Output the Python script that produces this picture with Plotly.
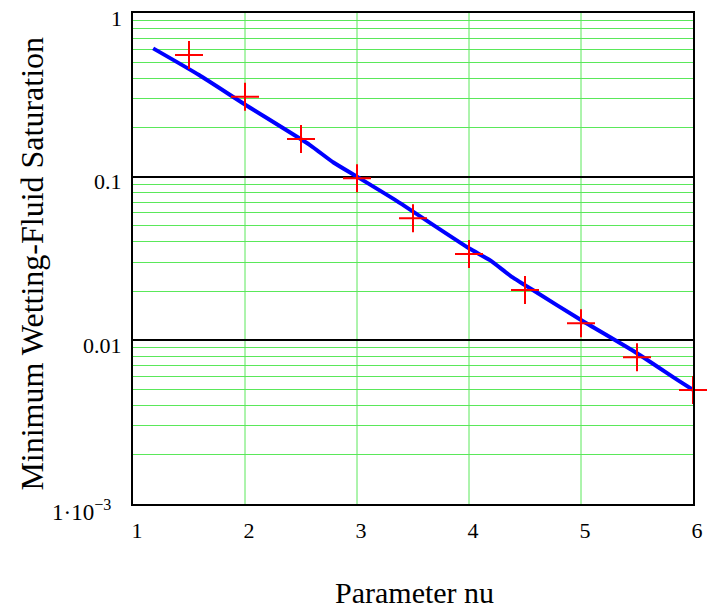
import math
import plotly.graph_objects as go

# Measured minimum wetting-fluid saturation vs. parameter nu
nu_data = [1.5, 2.0, 2.5, 3.0, 3.5, 4.0, 4.5, 5.0, 5.5, 6.0]
sw_data = [0.554, 0.308, 0.170, 0.0977, 0.0557, 0.0337, 0.0203, 0.0127, 0.00788, 0.00498]

# Fitted curve
nu_fit = [1.18, 1.59, 2.0, 2.58, 2.79, 3.0, 3.34, 4.0, 4.19, 4.37, 4.57, 5.0, 5.5, 5.86, 6.0]
sw_fit = [0.608, 0.418, 0.276, 0.156, 0.122, 0.100, 0.0721, 0.0365, 0.0308, 0.0248,
          0.0203, 0.0133, 0.00834, 0.00573, 0.00498]

x_ticks = [1, 2, 3, 4, 5, 6]
y_ticks = [1e-3, 1e-2, 1e-1, 1]
y_ticktext = ["1\u00b710<sup>\u22123</sup>", "0.01", "0.1", "1"]
y_minor = [m * 10.0 ** e for e in (-3, -2, -1) for m in range(2, 10)]

FONT = "Liberation Serif, Times New Roman, serif"
GREEN = "rgb(90,232,90)"

fig = go.Figure()
fig.add_trace(go.Scatter(
    x=nu_fit, y=sw_fit, mode="lines",
    line=dict(color="#0000ff", width=4, shape="spline", smoothing=0.5),
    showlegend=False,
))
fig.add_trace(go.Scatter(
    x=nu_data, y=sw_data, mode="markers",
    marker=dict(symbol="cross-thin-open", size=20, color="red",
                line=dict(color="red", width=2)),
    showlegend=False, cliponaxis=False,
))

# vertical grid lines at the interior x ticks
for xv in x_ticks[1:-1]:
    fig.add_shape(
        type="line", xref="x", yref="paper", x0=xv, x1=xv, y0=0, y1=1,
        line=dict(color=GREEN, width=1), layer="below",
    )

fig.update_xaxes(
    range=[1, 6], tickmode="array", tickvals=x_ticks,
    showgrid=False,
    showline=True, linecolor="black", linewidth=2, mirror=True,
    ticks="", zeroline=False,
    tickfont=dict(family=FONT, size=22, color="black"),
    ticklabelstandoff=6, ticklabelshift=4,
)
fig.update_yaxes(
    type="log", range=[-3, 0], tickmode="array", tickvals=y_ticks,
    showticklabels=False,
    showgrid=True, gridcolor="black", gridwidth=1.5,
    minor=dict(tickmode="array", tickvals=y_minor, showgrid=True,
               gridcolor=GREEN, gridwidth=1, ticks=""),
    showline=True, linecolor="black", linewidth=2, mirror=True,
    ticks="", zeroline=False,
)

# y tick labels, set slightly below their grid lines; the
# power-of-ten label sits a little further left
for val, txt in zip(y_ticks, y_ticktext):
    is_power = "<sup>" in txt
    fig.add_annotation(
        text=txt, xref="paper", yref="y", x=0, y=math.log10(val),
        xanchor="right", yanchor="middle",
        xshift=-20 if is_power else -9, yshift=-6 if is_power else -5,
        showarrow=False, font=dict(family=FONT, size=23 if is_power else 22, color="black"),
    )

fig.add_annotation(
    text="Parameter nu", xref="paper", yref="paper",
    x=0.502, y=-0.18, xanchor="center", yanchor="middle", showarrow=False,
    font=dict(family=FONT, size=30, color="black"),
)
fig.add_annotation(
    text="Minimum Wetting-Fluid Saturation", xref="paper", yref="paper",
    x=-0.18, y=0.49, xanchor="center", yanchor="middle", showarrow=False,
    textangle=-90,
    font=dict(family=FONT, size=32, color="black"),
)

fig.update_layout(
    width=714, height=609,
    margin=dict(l=133, r=11, t=13, b=105),
    paper_bgcolor="white", plot_bgcolor="white",
)

fig.write_html("out.html")
